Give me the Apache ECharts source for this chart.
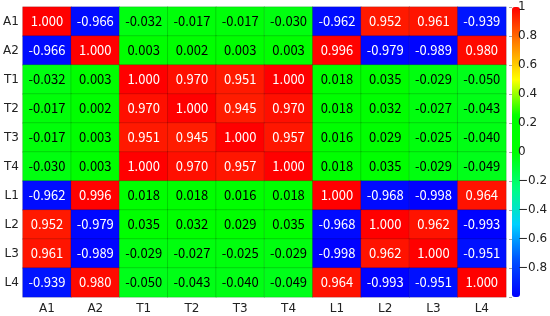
<!DOCTYPE html>
<html><head><meta charset="utf-8">
<script src="https://cdn.jsdelivr.net/npm/echarts@6/dist/echarts.min.js"></script>
<style>html,body{margin:0;padding:0;background:#fff}#c{width:550px;height:316px}</style>
</head><body><div id="c"></div>
<script>
var labels = ['A1','A2','T1','T2','T3','T4','L1','L2','L3','L4'];
var rowA1 = [1.000,-0.966,-0.032,-0.017,-0.017,-0.030,-0.962,0.952,0.961,-0.939];
var rowA2 = [-0.966,1.000,0.003,0.002,0.003,0.003,0.996,-0.979,-0.989,0.980];
var rowT1 = [-0.032,0.003,1.000,0.970,0.951,1.000,0.018,0.035,-0.029,-0.050];
var rowT2 = [-0.017,0.002,0.970,1.000,0.945,0.970,0.018,0.032,-0.027,-0.043];
var rowT3 = [-0.017,0.003,0.951,0.945,1.000,0.957,0.016,0.029,-0.025,-0.040];
var rowT4 = [-0.030,0.003,1.000,0.970,0.957,1.000,0.018,0.035,-0.029,-0.049];
var rowL1 = [-0.962,0.996,0.018,0.018,0.016,0.018,1.000,-0.968,-0.998,0.964];
var rowL2 = [0.952,-0.979,0.035,0.032,0.029,0.035,-0.968,1.000,0.962,-0.993];
var rowL3 = [0.961,-0.989,-0.029,-0.027,-0.025,-0.029,-0.998,0.962,1.000,-0.951];
var rowL4 = [-0.939,0.980,-0.050,-0.043,-0.040,-0.049,0.964,-0.993,-0.951,1.000];
var rows = [rowA1,rowA2,rowT1,rowT2,rowT3,rowT4,rowL1,rowL2,rowL3,rowL4];

var data = [];
rows.forEach(function(r, yi){
  r.forEach(function(v, xi){
    data.push({value:[xi, yi, v], label:{color: Math.abs(v) > 0.5 ? '#fff' : '#000'}});
  });
});

var chart = echarts.init(document.getElementById('c'));
chart.setOption({
  animation:false,
  grid:[
    {left:20, right:44, top:7, bottom:19},
    {left:512, width:8, top:7, bottom:19}
  ],
  xAxis:[
    {type:'category', data:labels, gridIndex:0, axisLine:{show:false}, axisTick:{show:false},
     axisLabel:{color:'#222', fontSize:12, margin:6, fontFamily:'DejaVu Sans'}},
    {type:'value', gridIndex:1, show:false, min:0, max:1}
  ],
  yAxis:[
    {type:'category', data:labels, inverse:true, gridIndex:0, axisLine:{show:false}, axisTick:{show:false},
     axisLabel:{color:'#222', fontSize:12, margin:4, fontFamily:'DejaVu Sans'}},
    {type:'value', gridIndex:1, min:-1, max:1, interval:0.2, position:'right', z:10,
     axisLine:{show:false}, splitLine:{show:false},
     axisTick:{show:true, inside:true, length:3, lineStyle:{color:'rgba(0,0,0,0.35)'}},
     axisLabel:{color:'#222', fontSize:12, margin:4, fontFamily:'DejaVu Sans',
       formatter:function(v){ if (Math.abs(v+1)<1e-6) return ''; var s = (Math.round(v*10)/10).toString(); return s.replace('-', '\u2212'); }}}
  ],
  visualMap:{
    type:'continuous', min:-1, max:1, calculable:false, show:true, padding:0,
    left:512, top:7, itemWidth:8, itemHeight:290, text:null, showLabel:false,
    seriesIndex:0, z:1,
    inRange:{color:['#0000ff','#0050ff','#00d0ff','#00ff80','#00ff00','#00ff00','#ffff00','#ff8000','#ff0000']}
  },
  series:[{
    type:'heatmap', xAxisIndex:0, yAxisIndex:0, data:data,
    itemStyle:{borderColor:'rgba(0,0,0,0.15)', borderWidth:1},
    label:{show:true, fontSize:13, fontFamily:'Noto Sans CJK SC',
      formatter:function(p){ return p.value[2].toFixed(3); }}
  }]
});
</script></body></html>
